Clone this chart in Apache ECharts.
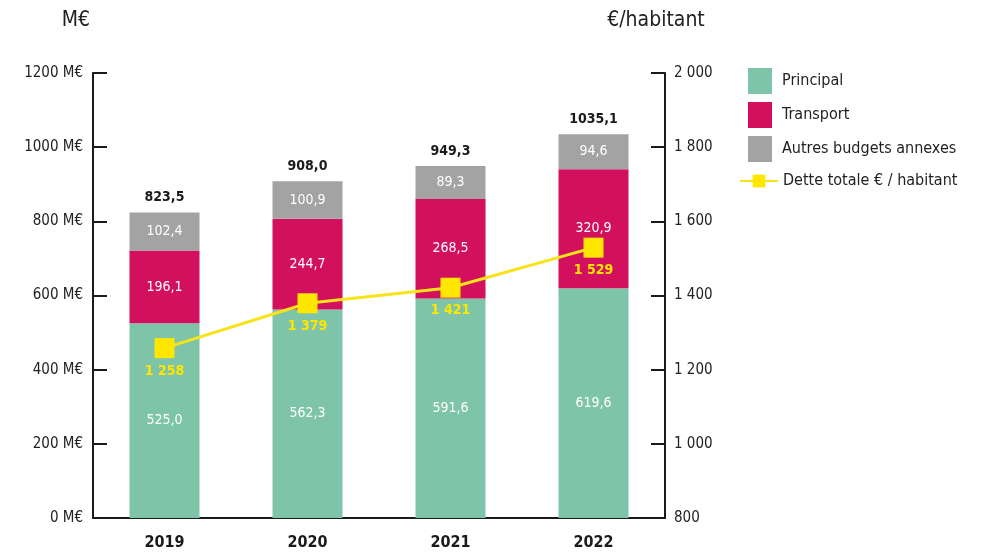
<!DOCTYPE html>
<html>
<head>
<meta charset="utf-8">
<style>
  html, body { margin: 0; padding: 0; background: #fff; }
  #chart { width: 985px; height: 552px; }
</style>
<script src="https://cdn.jsdelivr.net/npm/echarts@6/dist/echarts.min.js"></script>
</head>
<body>
<div id="chart"></div>
<script>
  var years = ['2019', '2020', '2021', '2022'];
  var principal = [525.0, 562.3, 591.6, 619.6];
  var transport = [196.1, 244.7, 268.5, 320.9];
  var autres = [102.4, 100.9, 89.3, 94.6];
  var totals = [823.5, 908.0, 949.3, 1035.1];
  var detteHabitant = [1258, 1379, 1421, 1529];

  var FONT = '"Liberation Sans Narrow", "DejaVu Sans Condensed", "Open Sans", sans-serif';

  function fr(v) {
    return v.toFixed(1).replace('.', ',');
  }
  function spaced(v) {
    return String(v).replace(/\B(?=(\d{3})+(?!\d))/g, ' ');
  }

  var chart = echarts.init(document.getElementById('chart'));

  var segLabel = {
    show: true,
    position: 'inside',
    color: '#fff',
    fontFamily: FONT,
    fontSize: 14,
    formatter: function (p) { return fr(p.value); }
  };

  chart.setOption({
    animation: false,
    textStyle: { fontFamily: FONT },
    grid: { left: 93, right: 320, top: 73, bottom: 34 },
    legend: [
      {
        orient: 'vertical',
        left: 743,
        top: 63,
        itemWidth: 24,
        itemHeight: 26,
        itemGap: 8,
        icon: 'rect',
        textStyle: { fontSize: 16, color: '#222', padding: [0, 0, 0, 5], fontFamily: FONT },
        data: ['Principal', 'Transport', 'Autres budgets annexes']
      },
      {
        orient: 'vertical',
        left: 734,
        top: 168,
        itemWidth: 38,
        itemHeight: 16,
        textStyle: { fontSize: 16, color: '#222', fontFamily: FONT },
        data: ['Dette totale € / habitant']
      }
    ],
    xAxis: {
      type: 'category',
      data: years,
      axisLine: { lineStyle: { color: '#1a1a1a', width: 2 } },
      axisTick: { show: false },
      axisLabel: { color: '#1a1a1a', fontWeight: 'bold', fontSize: 16, margin: 17, fontFamily: FONT }
    },
    yAxis: [
      {
        type: 'value',
        min: 0,
        max: 1200,
        interval: 200,
        name: 'M€',
        nameLocation: 'end',
        nameGap: 42,
        nameTextStyle: { fontSize: 21, color: '#222', align: 'right', padding: [0, 3, 0, 0], fontFamily: FONT },
        axisLine: { show: true, lineStyle: { color: '#1a1a1a', width: 2 } },
        axisTick: { show: true, inside: true, length: 14, lineStyle: { color: '#1a1a1a', width: 2 } },
        splitLine: { show: false },
        axisLabel: {
          color: '#222', fontSize: 15, margin: 10, fontFamily: FONT,
          formatter: function (v) { return v + ' M€'; }
        }
      },
      {
        type: 'value',
        min: 800,
        max: 2000,
        interval: 200,
        name: '€/habitant',
        nameLocation: 'end',
        nameGap: 42,
        nameTextStyle: { fontSize: 21, color: '#222', align: 'center', padding: [0, 18, 0, 0], fontFamily: FONT },
        axisLine: { show: true, lineStyle: { color: '#1a1a1a', width: 2 } },
        axisTick: { show: true, inside: true, length: 14, lineStyle: { color: '#1a1a1a', width: 2 } },
        splitLine: { show: false },
        axisLabel: {
          color: '#222', fontSize: 15, margin: 9, fontFamily: FONT,
          formatter: function (v) { return spaced(v); }
        }
      }
    ],
    series: [
      {
        name: 'Principal',
        type: 'bar',
        stack: 'budget',
        barWidth: 70,
        itemStyle: { color: '#7dc4a9' },
        label: segLabel,
        data: principal
      },
      {
        name: 'Transport',
        type: 'bar',
        stack: 'budget',
        itemStyle: { color: '#d2105d' },
        label: segLabel,
        data: transport
      },
      {
        name: 'Autres budgets annexes',
        type: 'bar',
        stack: 'budget',
        itemStyle: { color: '#a3a3a3' },
        label: segLabel,
        data: autres
      },
      {
        name: 'Total',
        type: 'bar',
        stack: 'budget',
        itemStyle: { color: 'transparent' },
        label: {
          show: true,
          position: 'top',
          distance: 8,
          color: '#1a1a1a',
          fontWeight: 'bold',
          fontSize: 14,
          fontFamily: FONT,
          formatter: function (p) { return fr(totals[p.dataIndex]); }
        },
        data: totals.map(function () { return 0; })
      },
      {
        name: 'Dette totale € / habitant',
        type: 'line',
        yAxisIndex: 1,
        z: 5,
        symbol: 'rect',
        symbolSize: 20,
        lineStyle: { color: '#f7e31a', width: 3 },
        itemStyle: { color: '#ffe600' },
        label: {
          show: true,
          position: 'bottom',
          distance: 6,
          color: '#ffe600',
          fontWeight: 'bold',
          fontSize: 14,
          fontFamily: FONT,
          formatter: function (p) { return spaced(p.value); }
        },
        data: detteHabitant
      }
    ]
  });
</script>
</body>
</html>
